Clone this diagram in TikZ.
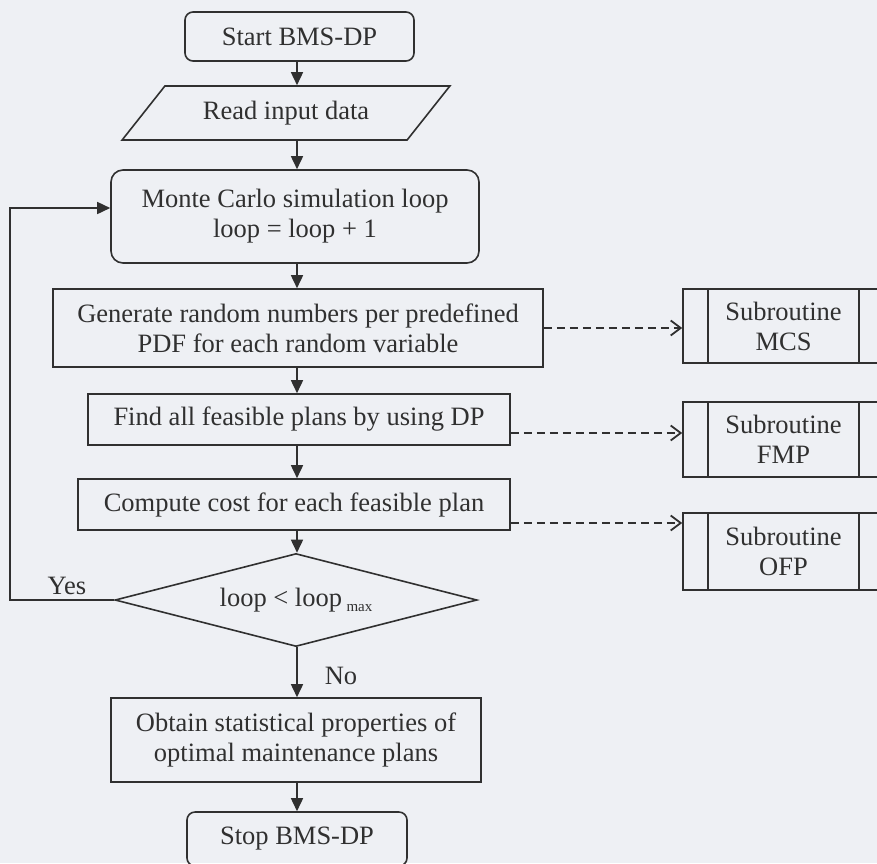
\documentclass[tikz,border=0pt]{standalone}
\usepackage{fontspec}
\setmainfont{Liberation Serif}
\usetikzlibrary{shapes.geometric,arrows.meta}
\definecolor{paper}{HTML}{EEF0F4}
\definecolor{ink}{HTML}{303030}
\begin{document}
\begin{tikzpicture}[x=1pt,y=-1pt,
  font=\fontsize{26.5}{30}\selectfont,
  every node/.style={text=ink, align=center, inner sep=0pt},
  edge/.style={draw=ink, line width=1.6pt},
  proc/.style={edge, rectangle},
  term/.style={edge, rectangle, rounded corners=8pt},
  io/.style={edge, trapezium, trapezium stretches=true,
    trapezium left angle=39.3, trapezium right angle=140.7},
  decide/.style={edge, diamond, shape aspect=3.9},
  subr/.style={edge, rectangle, minimum width=201pt,
    path picture={
      \draw[ink, line width=1.6pt]
        ([xshift=25pt]path picture bounding box.north west) --
        ([xshift=25pt]path picture bounding box.south west);
      \draw[ink, line width=1.6pt]
        ([xshift=-25pt]path picture bounding box.north east) --
        ([xshift=-25pt]path picture bounding box.south east);}},
  flow/.style={edge, -{Triangle[length=13pt,width=12pt]}},
  call/.style={edge, dash pattern=on 8pt off 5pt,
    -{Straight Barb[length=10pt,width=15pt,line width=1.8pt]}}]

\useasboundingbox (0,0) rectangle (877,863);
\fill[paper] (0,0) rectangle (877,863);

% main flow
\node[term, minimum width=229pt, minimum height=49pt] (start) at (299.5,36.5) {Start BMS-DP};
\node[io, minimum width=328pt, minimum height=54pt] (read) at (286,113) {Read input data};
\node[term, rounded corners=12pt, minimum width=368pt, minimum height=93pt] (mc) at (295,216.5)
  {Monte Carlo simulation loop\\loop = loop + 1};
\node[proc, minimum width=490pt, minimum height=78pt] (gen) at (298,328)
  {Generate random numbers per predefined\\PDF for each random variable};
\node[proc, minimum width=422pt, minimum height=51pt] (find) at (299,419.5)
  {Find all feasible plans by using DP};
\node[proc, minimum width=432pt, minimum height=51pt] (comp) at (294,504.5)
  {Compute cost for each feasible plan};
\node[decide, minimum width=362pt, minimum height=93pt] (dec) at (296,600)
  {loop < loop\,\raisebox{-5pt}{\fontsize{15}{15}\selectfont max}};
\node[proc, minimum width=370pt, minimum height=84pt] (obt) at (296,740)
  {Obtain statistical properties of\\optimal maintenance plans};
\node[term, minimum width=220pt, minimum height=54pt] (stop) at (297,839) {Stop BMS-DP};

% subroutines
\node[subr, minimum height=74pt] (mcs) at (783.5,326) {Subroutine\\MCS};
\node[subr, minimum height=75pt] (fmp) at (783.5,439.5) {Subroutine\\FMP};
\node[subr, minimum height=77pt] (ofp) at (783.5,551.5) {Subroutine\\OFP};

% labels
\node (yes) at (67,586) {Yes};
\node (no) at (341,676) {No};

\coordinate (axis) at (297,0);
\coordinate (back) at (10,600);

\draw[flow] (start.south -| axis) -- (read.north -| axis);
\draw[flow] (read.south -| axis) -- (mc.north -| axis);
\draw[flow] (mc.south -| axis) -- (gen.north -| axis);
\draw[flow] (gen.south -| axis) -- (find.north -| axis);
\draw[flow] (find.south -| axis) -- (comp.north -| axis);
\draw[flow] (comp.south -| axis) -- (dec.north -| axis);
\draw[flow] (dec.south -| axis) -- (obt.north -| axis);
\draw[flow] (obt.south -| axis) -- (stop.north -| axis);
\draw[flow] (dec.west) -- (back) |- ([yshift=8.5pt]mc.west);

\draw[call] (gen.east) -- (gen.east -| mcs.west);
\draw[call] ([yshift=-13.5pt]find.east) -- ([yshift=-13.5pt]find.east -| fmp.west);
\draw[call] ([yshift=-18.5pt]comp.east) -- ([yshift=-18.5pt]comp.east -| ofp.west);
\end{tikzpicture}
\end{document}
